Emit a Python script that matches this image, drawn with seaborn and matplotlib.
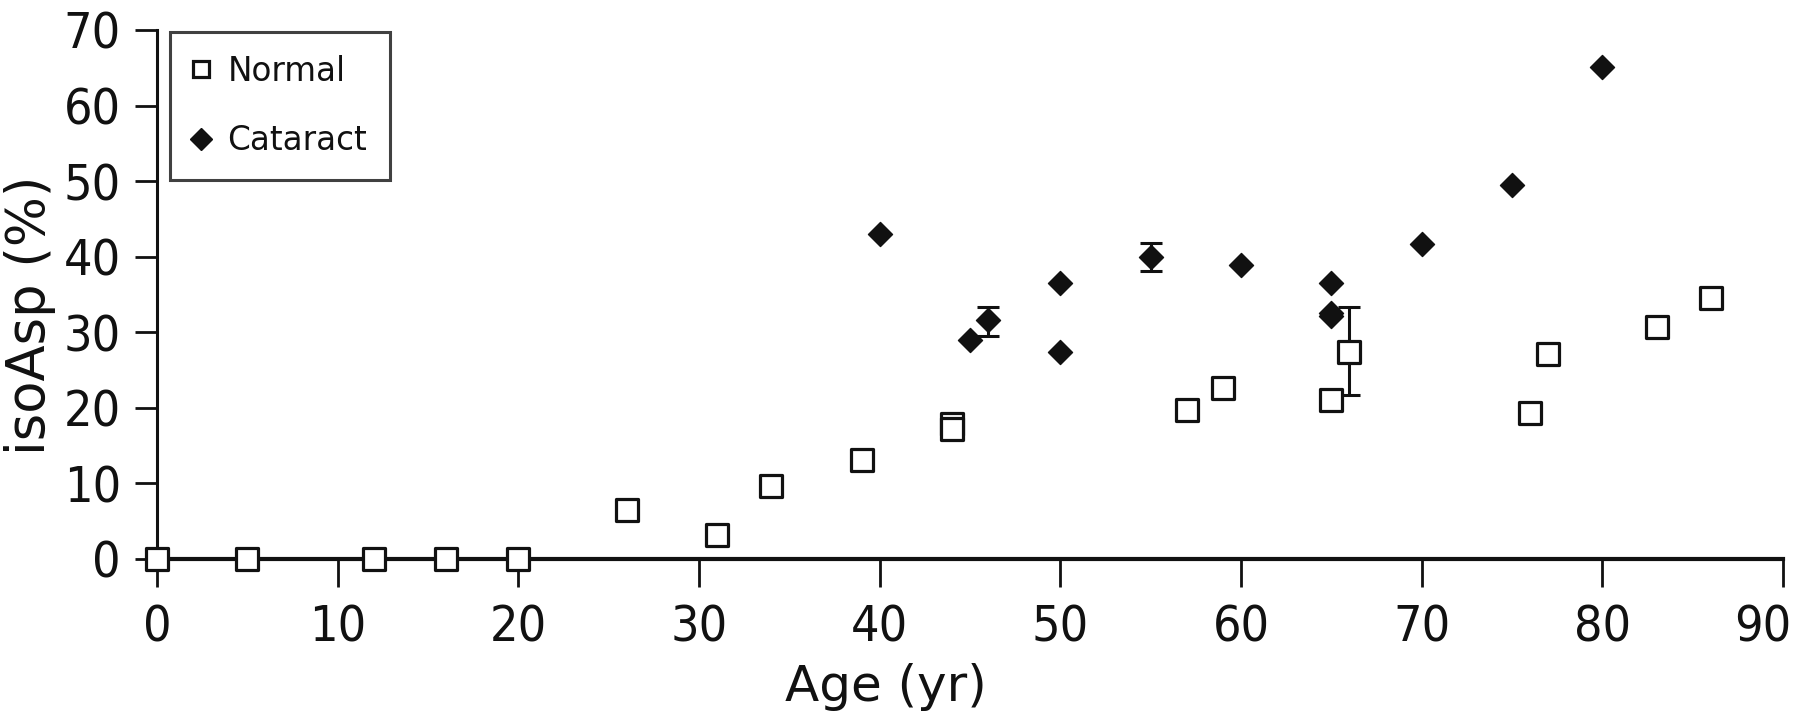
import matplotlib
matplotlib.use("Agg")
import matplotlib.pyplot as plt
import matplotlib.transforms as mtransforms
import seaborn as sns
import pandas as pd
from matplotlib.lines import Line2D

# ---- data ----
normal_age = [0, 5, 12, 16, 20, 26, 31, 34, 39, 44, 44, 57, 59, 65, 66, 76, 77, 83, 86]
normal_iso = [0, 0, 0, 0, 0, 6.5, 3.2, 9.7, 13.1, 17.8, 17.2, 19.7, 22.6, 21.0, 27.4, 19.3, 27.1, 30.7, 34.5]
cataract_age = [40, 45, 46, 50, 50, 55, 60, 65, 65, 65, 70, 75, 80]
cataract_iso = [43.0, 29.0, 31.6, 36.5, 27.4, 39.9, 38.9, 36.5, 32.1, 32.6, 41.7, 49.5, 65.1]
err_age = [46, 55, 66]
err_mean = [31.6, 39.9, 27.4]
err_low = [29.5, 38.1, 21.7]
err_high = [33.4, 41.8, 33.4]
series_labels = ["Normal", "Cataract"]
x_ticks = [0, 10, 20, 30, 40, 50, 60, 70, 80, 90]
y_ticks = [0, 10, 20, 30, 40, 50, 60, 70]

sns.set_style("ticks")
plt.rcParams['font.family'] = ['DejaVu Sans']
plt.rcParams['text.color'] = '#111111'

fig = plt.figure(figsize=(18, 7.21), dpi=100)
ax = fig.add_axes([0.0872, 0.2247, 0.9034, 0.7337])

df_n = pd.DataFrame({"Age": normal_age, "iso": normal_iso})
df_c = pd.DataFrame({"Age": cataract_age, "iso": cataract_iso})

# error bars
yerr = [[m - l for m, l in zip(err_mean, err_low)], [h - m for m, h in zip(err_mean, err_high)]]
ax.errorbar(err_age, err_mean, yerr=yerr, fmt='none', ecolor='#111111',
            elinewidth=2.2, capsize=8, capthick=2.2, zorder=3, clip_on=False)

sns.scatterplot(data=df_n, x="Age", y="iso", marker='s', s=230, color='white',
                edgecolor='#111111', linewidth=2.3, ax=ax, zorder=5, clip_on=False, legend=False)
sns.scatterplot(data=df_c, x="Age", y="iso", marker='D', s=150, color='#111111',
                edgecolor='#111111', linewidth=1, ax=ax, zorder=6, clip_on=False, legend=False)

ax.set_xlim(0, 90)
ax.set_ylim(0, 70)
ax.set_xticks(x_ticks)
ax.set_yticks(y_ticks)
ax.tick_params(axis='x', direction='out', length=20, width=2, pad=12, colors='#111111')
ax.tick_params(axis='y', direction='out', length=16, width=2, pad=10, colors='#111111')
for lab in ax.get_xticklabels() + ax.get_yticklabels():
    lab.set_fontsize(36)
    lab.set_fontstretch('condensed')
    lab.set_color('#111111')
# last x tick label is nudged left so it stays inside the figure
last = ax.get_xticklabels()[-1]
last.set_transform(last.get_transform() + mtransforms.ScaledTranslation(-0.2, 0, fig.dpi_scale_trans))

for side in ['top', 'right']:
    ax.spines[side].set_visible(False)
ax.spines['left'].set_linewidth(2.2)
ax.spines['bottom'].set_linewidth(3)
ax.spines['left'].set_color('#111111')
ax.spines['bottom'].set_color('#111111')

ax.set_xlabel("Age (yr)", fontsize=36, color='#111111')
ax.set_ylabel("isoAsp (%)", fontsize=38, color='#111111')
ax.xaxis.set_label_coords(0.448, -0.197)
ax.yaxis.set_label_coords(-0.062, 0.46)

handles = [
    Line2D([], [], linestyle='none', marker='s', markersize=12, markerfacecolor='white',
           markeredgecolor='#111111', markeredgewidth=2.3),
    Line2D([], [], linestyle='none', marker='D', markersize=11, markerfacecolor='#111111',
           markeredgecolor='#111111'),
]
leg = ax.legend(handles, series_labels, loc='upper left', bbox_to_anchor=(0.0944, 0.9556),
                bbox_transform=fig.transFigure, fontsize=23.5, frameon=True, fancybox=False,
                borderaxespad=0, borderpad=0.7, labelspacing=1.12, handletextpad=0.56,
                handlelength=0.5)
leg.get_frame().set_edgecolor('#111111')
leg.get_frame().set_linewidth(2.2)
for t in leg.get_texts():
    t.set_color('#111111')

fig.savefig("out.png", dpi=100)
